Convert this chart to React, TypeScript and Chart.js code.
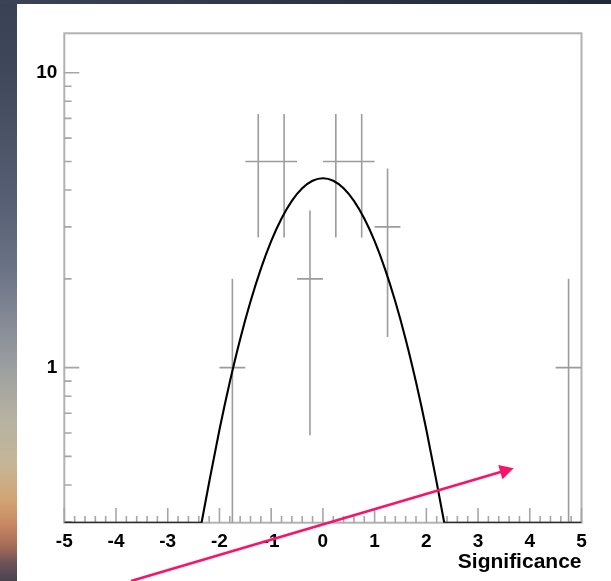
import React, { useEffect, useRef } from "react";
import { Chart, registerables } from "chart.js";

Chart.register(...registerables);

// Histogram of significances: bin centres, entries per bin and their Poisson errors
const BIN_CENTERS = [-1.75, -1.25, -0.75, -0.25, 0.25, 0.75, 1.25, 4.75];
const BIN_COUNTS = [1, 5, 5, 2, 5, 5, 3, 1];
const BIN_ERRORS = [1, 2.24, 2.24, 1.41, 2.24, 2.24, 1.73, 1];
const BIN_WIDTH = 0.5;

// Gaussian fit, sampled between the points where it meets the bottom of the frame
const FIT_X = [
  -2.346, -2.2, -2.0, -1.8, -1.6, -1.4, -1.2, -1.0, -0.8, -0.6, -0.4, -0.2, 0,
  0.2, 0.4, 0.6, 0.8, 1.0, 1.2, 1.4, 1.6, 1.8, 2.0, 2.2, 2.346,
];
const FIT_Y = [
  0.298, 0.408, 0.616, 0.894, 1.249, 1.676, 2.163, 2.685, 3.203, 3.675, 4.054, 4.3, 4.385,
  4.3, 4.054, 3.675, 3.203, 2.685, 2.163, 1.676, 1.249, 0.894, 0.616, 0.408, 0.298,
];
// Where the fit falls below the axis floor it runs along the bottom of the frame
const FIT_TAIL_X = [-5, -2.346, 2.346, 5];

// Axes
const X_MIN = -5;
const X_MAX = 5;
const Y_MIN = 0.298;
const Y_MAX = 13.6;
const Y_LABELS = [1, 10];
const X_TITLE = "Significance";

// Highlight arrow, in data coordinates
const ARROW_FROM = { x: -3.71, y: 0.189 };
const ARROW_TO = { x: 3.69, y: 0.456 };

const FONT = "'Liberation Sans', Arial, Helvetica, sans-serif";
const FRAME_COLOR = "#b2b2b2";
const TICK_COLOR = "#a6a6a6";
const ERR_COLOR = "#9c9c9c";
const ARROW_COLOR = "#f7146b";

// ROOT-style frame with ticks pointing into the pad
const frameTicks = {
  id: "frameTicks",
  beforeDatasetsDraw(chart: any) {
    const { ctx, chartArea: a, scales } = chart;
    const xs = scales.x;
    const ys = scales.y;
    ctx.save();
    ctx.strokeStyle = FRAME_COLOR;
    ctx.lineWidth = 2;
    ctx.strokeRect(a.left, a.top, a.right - a.left, a.bottom - a.top);

    ctx.strokeStyle = TICK_COLOR;
    ctx.lineWidth = 1.6;
    ctx.beginPath();
    for (let i = 0; i <= 50; i++) {
      const v = X_MIN + i * 0.2;
      const px = xs.getPixelForValue(v);
      const len = i % 5 === 0 ? 14.7 : 6.7;
      ctx.moveTo(px, a.bottom);
      ctx.lineTo(px, a.bottom - len);
    }
    for (let d = -1; d <= 1; d++) {
      for (let m = 1; m <= 9; m++) {
        const v = m * Math.pow(10, d);
        if (v < ys.min || v > ys.max) continue;
        const py = ys.getPixelForValue(v);
        const len = m === 1 ? 15 : 7.3;
        ctx.moveTo(a.left, py);
        ctx.lineTo(a.left + len, py);
      }
    }
    ctx.stroke();
    ctx.restore();
  },
};

// Arrow drawn over the finished chart
const arrowOverlay = {
  id: "arrowOverlay",
  afterDraw(chart: any) {
    const { ctx, scales } = chart;
    const x0 = scales.x.getPixelForValue(ARROW_FROM.x);
    const y0 = scales.y.getPixelForValue(ARROW_FROM.y);
    const x1 = scales.x.getPixelForValue(ARROW_TO.x);
    const y1 = scales.y.getPixelForValue(ARROW_TO.y);
    const ang = Math.atan2(y1 - y0, x1 - x0);
    const headLen = 14;
    const headHalf = 7.5;
    const bx = x1 - headLen * Math.cos(ang);
    const by = y1 - headLen * Math.sin(ang);
    ctx.save();
    ctx.strokeStyle = ARROW_COLOR;
    ctx.fillStyle = ARROW_COLOR;
    ctx.lineWidth = 2.6;
    ctx.lineCap = "butt";
    ctx.beginPath();
    ctx.moveTo(x0, y0);
    ctx.lineTo(bx + 2 * Math.cos(ang), by + 2 * Math.sin(ang));
    ctx.stroke();
    ctx.beginPath();
    ctx.moveTo(x1, y1);
    ctx.lineTo(bx + headHalf * Math.sin(ang), by - headHalf * Math.cos(ang));
    ctx.lineTo(bx - headHalf * Math.sin(ang), by + headHalf * Math.cos(ang));
    ctx.closePath();
    ctx.fill();
    ctx.restore();
  },
};

function errorBarPoints() {
  const pts: { x: number; y: number | null }[] = [];
  BIN_CENTERS.forEach((c, i) => {
    const n = BIN_COUNTS[i];
    const e = BIN_ERRORS[i];
    pts.push({ x: c - BIN_WIDTH / 2, y: n });
    pts.push({ x: c + BIN_WIDTH / 2, y: n });
    pts.push({ x: c + BIN_WIDTH / 2, y: null });
    pts.push({ x: c, y: Math.max(n - e, Y_MIN) });
    pts.push({ x: c, y: n + e });
    pts.push({ x: c, y: null });
  });
  return pts;
}

export default function App() {
  const canvasRef = useRef<HTMLCanvasElement | null>(null);

  useEffect(() => {
    const canvas = canvasRef.current;
    if (!canvas) return;

    const fitPoints = FIT_X.map((x, i) => ({ x, y: Math.max(FIT_Y[i], Y_MIN) }));
    const tailPoints = [
      { x: FIT_TAIL_X[0], y: Y_MIN },
      { x: FIT_TAIL_X[1], y: Y_MIN },
      { x: FIT_TAIL_X[1], y: null },
      { x: FIT_TAIL_X[2], y: Y_MIN },
      { x: FIT_TAIL_X[3], y: Y_MIN },
    ];

    const chart = new Chart(canvas, {
      type: "line",
      data: {
        datasets: [
          {
            label: "fit",
            data: fitPoints,
            borderColor: "#000",
            borderWidth: 2.1,
            pointRadius: 0,
            cubicInterpolationMode: "monotone",
            fill: false,
            order: 0,
          },
          {
            label: "fit tails",
            data: tailPoints as any,
            borderColor: "#000",
            borderWidth: 2.1,
            pointRadius: 0,
            spanGaps: false,
            fill: false,
            order: 1,
          },
          {
            label: "entries",
            data: errorBarPoints() as any,
            borderColor: ERR_COLOR,
            borderWidth: 1.6,
            pointRadius: 0,
            spanGaps: false,
            fill: false,
            order: 2,
          },
        ],
      },
      options: {
        responsive: false,
        animation: false,
        devicePixelRatio: 1,
        layout: { padding: { left: 0, top: 33.3, right: 29.5, bottom: 0 } },
        plugins: {
          legend: { display: false },
          tooltip: { enabled: false },
          title: { display: false },
        },
        scales: {
          x: {
            type: "linear",
            min: X_MIN,
            max: X_MAX,
            grid: { display: false, drawTicks: false },
            border: { display: false },
            ticks: {
              stepSize: 1,
              padding: 7.5,
              color: "#000",
              font: { family: FONT, size: 19, weight: "bold" },
              callback: (v: any) => String(v),
              maxRotation: 0,
              autoSkip: false,
            },
            title: {
              display: true,
              text: X_TITLE,
              align: "end",
              color: "#000",
              font: { family: FONT, size: 21, weight: "bold" },
              padding: { top: 0, bottom: 6 },
            },
            afterFit: (s: any) => {
              s.height = 58.3;
            },
          },
          y: {
            type: "logarithmic",
            min: Y_MIN,
            max: Y_MAX,
            grid: { display: false, drawTicks: false },
            border: { display: false },
            afterBuildTicks: (s: any) => {
              s.ticks = Y_LABELS.map((v) => ({ value: v }));
            },
            ticks: {
              padding: 7,
              color: "#000",
              font: { family: FONT, size: 19, weight: "bold" },
              callback: (v: any) => String(v),
              autoSkip: false,
            },
            afterFit: (s: any) => {
              s.width = 64.3;
            },
          },
        },
      },
      plugins: [frameTicks, arrowOverlay],
    });

    return () => chart.destroy();
  }, []);

  return (
    <div
      style={{
        position: "fixed",
        left: 0,
        top: 0,
        width: 611,
        height: 581,
        overflow: "hidden",
        background:
          "linear-gradient(to bottom, #394155 0%, #3f475b 12%, #575f74 35%, #6c7487 47%, #8a8e98 57%, #9ea1a1 64%, #b6b2a2 72%, #c5b697 80%, #d2a474 86%, #c98a63 90%, #a56c56 94%, #6a5258 97%, #4a4450 100%)",
      }}
    >
      <div
        style={{
          position: "absolute",
          left: 0,
          top: 0,
          width: 611,
          height: 4,
          background: "linear-gradient(to right, #3b4356, #2c3446 50%, #1f2937)",
        }}
      />
      <div
        style={{
          position: "absolute",
          left: 17,
          top: 4,
          right: 0,
          bottom: 0,
          background: "#ffffff",
        }}
      />
      <canvas
        ref={canvasRef}
        width={611}
        height={581}
        style={{ position: "absolute", left: 0, top: 0, width: 611, height: 581 }}
      />
    </div>
  );
}
